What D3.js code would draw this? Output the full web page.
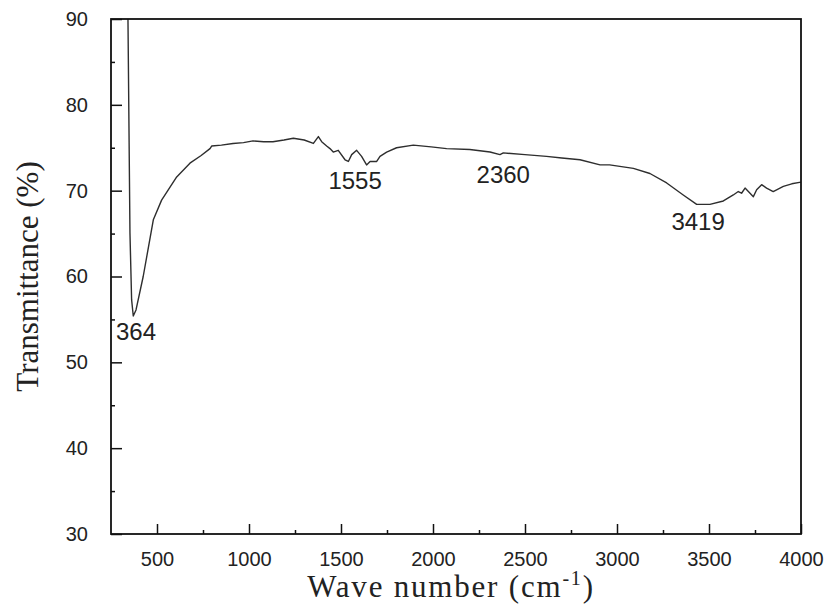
<!DOCTYPE html>
<html>
<head>
<meta charset="utf-8">
<script src="https://cdn.jsdelivr.net/npm/d3@7"></script>
<style>
  body { margin: 0; background: #fff; }
  svg { display: block; }
</style>
</head>
<body>
<div id="chart"></div>
<script>
// FTIR spectrum, values
var waveNumber = [342, 353, 362, 371, 386, 425, 480, 525, 607, 679, 740, 788, 797, 850, 913, 970, 1022, 1080, 1130, 1190, 1241, 1300, 1350, 1377, 1395, 1422, 1440, 1458, 1485, 1522, 1540, 1558, 1585, 1612, 1639, 1658, 1694, 1712, 1748, 1802, 1893, 1990, 2074, 2200, 2310, 2364, 2382, 2500, 2617, 2700, 2799, 2908, 2960, 3089, 3179, 3270, 3360, 3433, 3505, 3578, 3632, 3659, 3677, 3696, 3714, 3741, 3759, 3786, 3813, 3849, 3904, 3950, 4000];
var transmittance = [90.5, 65.1, 57.3, 55.4, 56.1, 60.0, 66.6, 68.9, 71.6, 73.2, 74.1, 74.9, 75.2, 75.3, 75.5, 75.6, 75.8, 75.7, 75.7, 75.9, 76.1, 75.9, 75.5, 76.3, 75.7, 75.2, 74.9, 74.5, 74.7, 73.6, 73.4, 74.2, 74.7, 74.0, 73.0, 73.4, 73.4, 74.0, 74.5, 75.0, 75.3, 75.1, 74.9, 74.8, 74.5, 74.2, 74.4, 74.2, 74.0, 73.8, 73.6, 73.0, 73.0, 72.6, 72.0, 70.9, 69.5, 68.4, 68.4, 68.8, 69.5, 69.9, 69.7, 70.3, 69.9, 69.3, 70.1, 70.7, 70.3, 69.9, 70.5, 70.8, 71.0];

var peakLabels = ["364", "1555", "2360", "3419"];
var peakX = [364, 1555, 2360, 3419];
var peakLabelY = [52.6, 70.2, 70.9, 65.4];

var xTicks = [500, 1000, 1500, 2000, 2500, 3000, 3500, 4000];
var yTicks = [30, 40, 50, 60, 70, 80, 90];

var W = 828, H = 604;
var margin = {top: 19, right: 27, bottom: 70, left: 111};
var width = W - margin.left - margin.right;
var height = H - margin.top - margin.bottom;

var svg = d3.select("#chart").append("svg")
    .attr("width", W)
    .attr("height", H);

var g = svg.append("g")
    .attr("transform", "translate(" + margin.left + "," + margin.top + ")");

var x = d3.scaleLinear().domain([250, 4000]).range([0, width]);
var y = d3.scaleLinear().domain([30, 90]).range([height, 0]);

g.append("clipPath").attr("id", "plotClip")
  .append("rect").attr("width", width).attr("height", height);

var data = waveNumber.map(function(d, i) { return {x: d, y: transmittance[i]}; });

var line = d3.line()
    .x(function(d) { return x(d.x); })
    .y(function(d) { return y(d.y); });

g.append("path")
    .datum(data)
    .attr("clip-path", "url(#plotClip)")
    .attr("fill", "none")
    .attr("stroke", "#2e2e2e")
    .attr("stroke-width", 1.4)
    .attr("stroke-linejoin", "round")
    .attr("d", line);

// axes, ticks point inward
var fmt = d3.format("d");
var xAxis = d3.axisBottom(x).tickValues(xTicks).tickFormat(fmt).tickSizeInner(-10).tickSizeOuter(0).tickPadding(18);
var xMinor = d3.axisBottom(x).tickValues(d3.range(750, 4000, 500)).tickSizeInner(-4).tickSizeOuter(0).tickFormat("");
var yAxis = d3.axisLeft(y).tickValues(yTicks).tickFormat(fmt).tickSizeInner(-11).tickSizeOuter(0).tickPadding(23);
var yMinor = d3.axisLeft(y).tickValues(d3.range(35, 90, 10)).tickSizeInner(-4).tickSizeOuter(0).tickFormat("");

function styleAxis(sel) {
  sel.select(".domain").remove();
  sel.selectAll("line").attr("stroke", "#111").attr("stroke-width", 1.5);
  sel.selectAll("text")
    .attr("font-family", "Liberation Sans, Arial, sans-serif")
    .attr("font-size", 20)
    .attr("fill", "#222");
}

g.append("g").attr("transform", "translate(0," + height + ")").call(xAxis).call(styleAxis);
g.append("g").attr("transform", "translate(0," + height + ")").call(xMinor).call(styleAxis);
g.append("g").call(yAxis).call(styleAxis);
g.append("g").call(yMinor).call(styleAxis);

// frame
g.append("rect")
    .attr("width", width)
    .attr("height", height)
    .attr("fill", "none")
    .attr("stroke", "#111")
    .attr("stroke-width", 1.8);

// peak labels
g.selectAll(".peak")
  .data(peakLabels)
  .enter().append("text")
    .attr("class", "peak")
    .attr("x", function(d, i) { return x(peakX[i]) + 4; })
    .attr("y", function(d, i) { return y(peakLabelY[i]); })
    .attr("text-anchor", "middle")
    .attr("font-family", "Liberation Sans, Arial, sans-serif")
    .attr("font-size", 24)
    .attr("fill", "#222")
    .text(function(d) { return d; });

// axis titles
var xTitle = svg.append("text")
    .attr("x", margin.left + width / 2 - 5)
    .attr("y", 597)
    .attr("text-anchor", "middle")
    .attr("font-family", "Liberation Serif, Times New Roman, serif")
    .attr("font-size", 31)
    .attr("letter-spacing", 1.8)
    .attr("fill", "#222");
xTitle.append("tspan").text("Wave number (cm");
xTitle.append("tspan").attr("font-size", 20).attr("dy", -12).text("-1");
xTitle.append("tspan").attr("dy", 12).text(")");

svg.append("text")
    .attr("transform", "translate(38," + (margin.top + height / 2) + ") rotate(-90)")
    .attr("text-anchor", "middle")
    .attr("font-family", "Liberation Serif, Times New Roman, serif")
    .attr("font-size", 31)
    .attr("fill", "#222")
    .text("Transmittance (%)");
</script>
</body>
</html>
